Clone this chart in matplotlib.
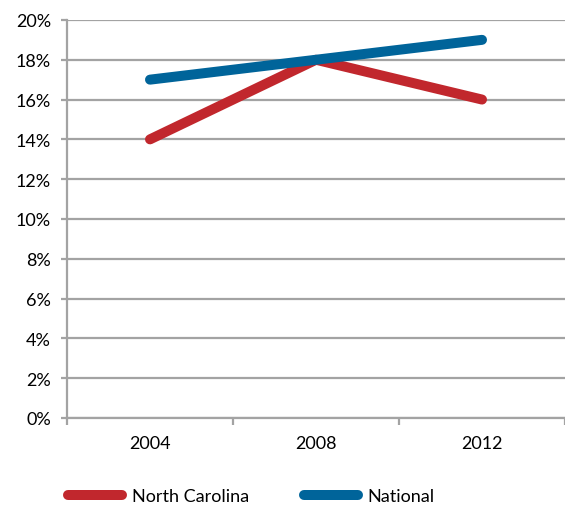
import matplotlib.pyplot as plt
from matplotlib.lines import Line2D
from matplotlib.ticker import FuncFormatter

# ----------- Data ------------
years = ["2004", "2008", "2012"]
north_carolina = [14, 18, 16]
national = [17, 18, 19]

RED = '#C1272D'
BLUE = '#00649A'
GRID = '#A3A3A3'

plt.rcParams['font.family'] = ['Lato', 'DejaVu Sans']

# ----------- Plot the Data ------------
fig = plt.figure(figsize=(5.65, 5.06), dpi=100)
ax = fig.add_axes([0.1186, 0.172, 1.0 - 0.1186, 0.7866])

x = list(range(len(years)))
ax.plot(x, north_carolina, color=RED, lw=7.2, solid_capstyle='round', zorder=3)
ax.plot(x, national, color=BLUE, lw=7.2, solid_capstyle='round', zorder=3)

ax.set_ylim(0, 20)
ax.set_xlim(-0.5, 2.43)
ax.set_yticks(range(0, 21, 2))
ax.yaxis.set_major_formatter(FuncFormatter(lambda v, p: f"{int(v)}%"))
ax.yaxis.grid(True, color=GRID, lw=1.6)
ax.set_axisbelow(True)

'''Category boundaries get the tick marks, the labels sit in between'''
ax.set_xticks([-0.5, 0.5, 1.5, 2.5])
ax.set_xticklabels([])
ax.set_xticks(x, minor=True)
ax.set_xticklabels(years, minor=True)
ax.tick_params(axis='x', which='major', length=5, width=1.6, color=GRID)
ax.tick_params(axis='x', which='minor', length=0, pad=12, labelsize=13)
ax.tick_params(axis='y', length=4.5, width=1.6, color=GRID, pad=7, labelsize=13)

for side in ['top', 'right']:
    ax.spines[side].set_visible(False)
for side in ['left', 'bottom']:
    ax.spines[side].set_color(GRID)
    ax.spines[side].set_linewidth(1.6)

handles = [Line2D([], [], color=RED, lw=7.2, solid_capstyle='round'),
           Line2D([], [], color=BLUE, lw=7.2, solid_capstyle='round')]
fig.legend(handles, ["North Carolina", "National"], loc='center left',
           bbox_to_anchor=(0.092, 0.018), ncol=2, frameon=False, fontsize=13,
           handlelength=3.0, handletextpad=0.55, columnspacing=3.0)

fig.savefig('out.png', dpi=100)
